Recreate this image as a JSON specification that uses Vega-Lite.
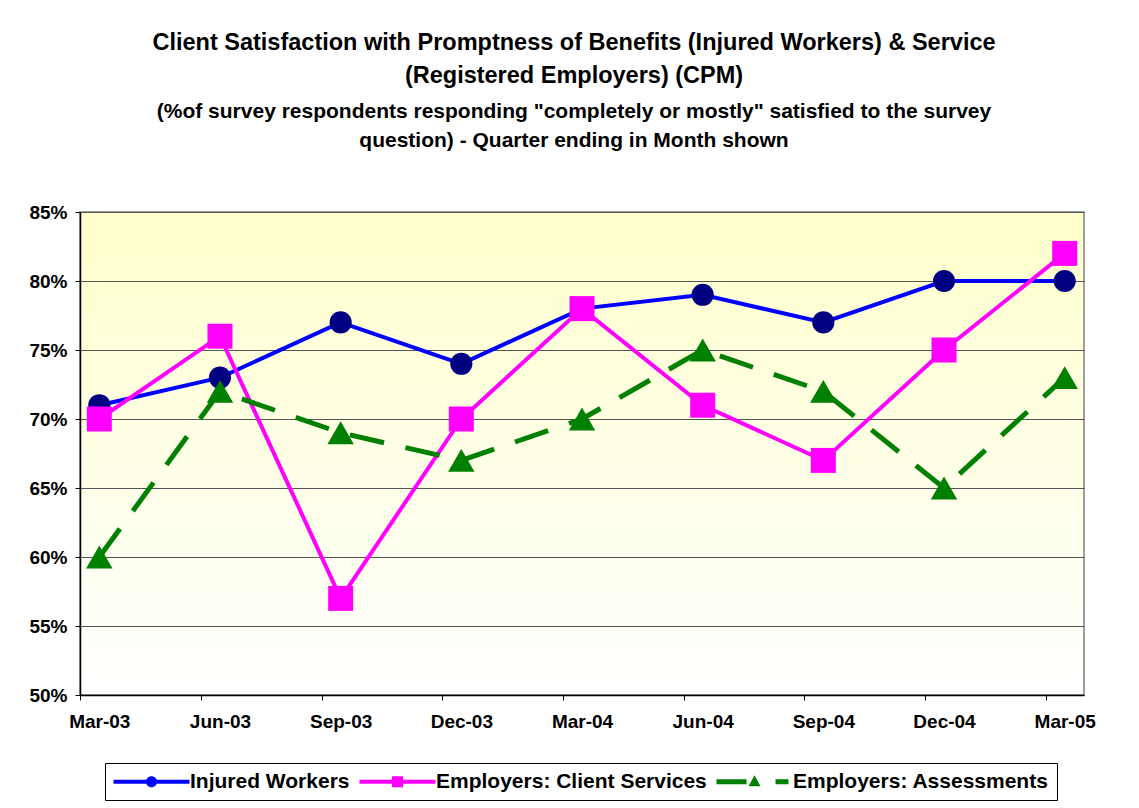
{
  "$schema": "https://vega.github.io/schema/vega-lite/v6.json",
  "width": 1004,
  "height": 483,
  "autosize": {"type": "none"},
  "padding": {"left": 80, "top": 212, "right": 55, "bottom": 113},
  "background": "white",
  "view": {
    "fill": {"gradient": "linear", "x1": 0, "y1": 0, "x2": 0, "y2": 1,
      "stops": [{"offset": 0, "color": "#FFFFCC"}, {"offset": 1, "color": "#FFFFFF"}]},
    "stroke": "#808080",
    "strokeWidth": 1.5
  },
  "title": {
    "text": ["Client Satisfaction with Promptness of Benefits (Injured Workers) & Service", "(Registered Employers) (CPM)"],
    "subtitle": ["(%of survey respondents responding \"completely or mostly\" satisfied to the survey", "question) - Quarter ending in Month shown"],
    "anchor": "middle",
    "frame": "group",
    "dx": -8,
    "offset": 52,
    "font": "Liberation Sans",
    "fontSize": 23.5,
    "fontWeight": "bold",
    "lineHeight": 33,
    "color": "black",
    "subtitleFont": "Liberation Sans",
    "subtitleFontSize": 21,
    "subtitleFontWeight": "bold",
    "subtitleLineHeight": 29,
    "subtitleColor": "black",
    "subtitlePadding": 14
  },
  "data": {"values": [
    {"q": "Mar-03", "s": "Injured Workers", "v": 0.71},
    {"q": "Jun-03", "s": "Injured Workers", "v": 0.73},
    {"q": "Sep-03", "s": "Injured Workers", "v": 0.77},
    {"q": "Dec-03", "s": "Injured Workers", "v": 0.74},
    {"q": "Mar-04", "s": "Injured Workers", "v": 0.78},
    {"q": "Jun-04", "s": "Injured Workers", "v": 0.79},
    {"q": "Sep-04", "s": "Injured Workers", "v": 0.77},
    {"q": "Dec-04", "s": "Injured Workers", "v": 0.80},
    {"q": "Mar-05", "s": "Injured Workers", "v": 0.80},
    {"q": "Mar-03", "s": "Employers: Client Services", "v": 0.70},
    {"q": "Jun-03", "s": "Employers: Client Services", "v": 0.76},
    {"q": "Sep-03", "s": "Employers: Client Services", "v": 0.57},
    {"q": "Dec-03", "s": "Employers: Client Services", "v": 0.70},
    {"q": "Mar-04", "s": "Employers: Client Services", "v": 0.78},
    {"q": "Jun-04", "s": "Employers: Client Services", "v": 0.71},
    {"q": "Sep-04", "s": "Employers: Client Services", "v": 0.67},
    {"q": "Dec-04", "s": "Employers: Client Services", "v": 0.75},
    {"q": "Mar-05", "s": "Employers: Client Services", "v": 0.82},
    {"q": "Mar-03", "s": "Employers: Assessments", "v": 0.60},
    {"q": "Jun-03", "s": "Employers: Assessments", "v": 0.72},
    {"q": "Sep-03", "s": "Employers: Assessments", "v": 0.69},
    {"q": "Dec-03", "s": "Employers: Assessments", "v": 0.67},
    {"q": "Mar-04", "s": "Employers: Assessments", "v": 0.70},
    {"q": "Jun-04", "s": "Employers: Assessments", "v": 0.75},
    {"q": "Sep-04", "s": "Employers: Assessments", "v": 0.72},
    {"q": "Dec-04", "s": "Employers: Assessments", "v": 0.65},
    {"q": "Mar-05", "s": "Employers: Assessments", "v": 0.73}
  ]},
  "encoding": {
    "x": {
      "field": "q", "type": "nominal", "sort": null,
      "scale": {"type": "point", "padding": 0.16,
        "domain": ["Mar-03", "Jun-03", "Sep-03", "Dec-03", "Mar-04", "Jun-04", "Sep-04", "Dec-04", "Mar-05"]},
      "axis": {"title": null, "labelAngle": 0, "tickOffset": -19, "labelOffset": 19, "grid": false,
        "labelPadding": 12, "tickSize": 5, "domainColor": "black", "tickColor": "black", "domainWidth": 1.5}
    },
    "y": {
      "field": "v", "type": "quantitative",
      "scale": {"domain": [0.5, 0.85], "nice": false, "zero": false},
      "axis": {"title": null, "format": ".0%", "values": [0.5, 0.55, 0.6, 0.65, 0.7, 0.75, 0.8, 0.85],
        "grid": true, "gridColor": "#555555", "gridWidth": 1, "labelPadding": 8, "tickSize": 5,
        "domainColor": "black", "tickColor": "black", "domainWidth": 1.5}
    }
  },
  "layer": [
    {"transform": [{"filter": "datum.s === 'Injured Workers'"}],
     "mark": {"type": "line", "color": "#0000FF", "strokeWidth": 4}},
    {"transform": [{"filter": "datum.s === 'Injured Workers'"}],
     "mark": {"type": "point", "filled": true, "shape": "circle", "size": 490, "color": "#000080", "opacity": 1}},
    {"transform": [{"filter": "datum.s === 'Employers: Client Services'"}],
     "mark": {"type": "line", "color": "#FF00FF", "strokeWidth": 4}},
    {"transform": [{"filter": "datum.s === 'Employers: Client Services'"}],
     "mark": {"type": "point", "filled": true, "shape": "square", "size": 625, "color": "#FF00FF", "opacity": 1}},
    {"transform": [{"filter": "datum.s === 'Employers: Assessments'"}],
     "mark": {"type": "line", "color": "#008000", "strokeWidth": 5, "strokeDash": [35, 22]}},
    {"transform": [{"filter": "datum.s === 'Employers: Assessments'"}],
     "mark": {"type": "point", "filled": true, "shape": "triangle-up", "size": 700, "color": "#008000", "opacity": 1}},
    {"mark": {"type": "point", "filled": true, "opacity": 0},
     "encoding": {
       "color": {"field": "s", "type": "nominal", "title": null,
         "scale": {"domain": ["Injured Workers", "Employers: Client Services", "Employers: Assessments"],
                   "range": ["#0000FF", "#FF00FF", "#008000"]}},
       "shape": {"field": "s", "type": "nominal", "title": null,
         "scale": {"domain": ["Injured Workers", "Employers: Client Services", "Employers: Assessments"],
                   "range": [
                     "M-3.8,-0.2H3.8V0.2H-3.8Z M-0.55,0A0.55,0.55 0 1,1 0.55,0A0.55,0.55 0 1,1 -0.55,0Z",
                     "M-3.8,-0.2H3.8V0.2H-3.8Z M-0.55,-0.55H0.55V0.55H-0.55Z",
                     "M-3.8,-0.25H-0.8V0.25H-3.8Z M2.1,-0.25H3.4V0.25H2.1Z M0,-0.65L0.6,0.45L-0.6,0.45Z"
                   ]}}
     }}
  ],
  "config": {
    "font": "Liberation Sans",
    "axis": {"labelFont": "Liberation Sans", "labelFontSize": 19, "labelFontWeight": "bold", "labelColor": "black"},
    "legend": {
      "orient": "none",
      "legendX": 25,
      "legendY": 551,
      "direction": "horizontal",
      "columns": 3,
      "symbolSize": 400,
      "symbolOffset": 28,
      "symbolOpacity": 1,
      "symbolStrokeWidth": 0,
      "labelFont": "Liberation Sans",
      "labelFontSize": 21,
      "labelFontWeight": "bold",
      "labelColor": "black",
      "labelLimit": 400,
      "labelOffset": 28,
      "columnPadding": 9,
      "padding": 8,
      "strokeColor": "black",
      "strokeWidth": 1,
      "fillColor": "white"
    }
  }
}
